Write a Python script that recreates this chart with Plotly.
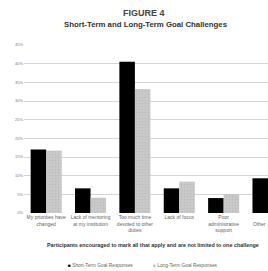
import plotly.graph_objects as go

categories = [
    "My priorities have<br>changed",
    "Lack of mentoring<br>at my institution",
    "Too much time<br>devoted to other<br>duties",
    "Lack of focus",
    "Poor<br>administrative<br>support",
    "Other",
]
short_term = [17.0, 6.6, 40.5, 6.6, 4.0, 9.3]
long_term = [16.7, 4.1, 33.2, 8.4, 5.1, 7.0]
series_names = ["Short-Term Goal Responses", "Long-Term Goal Responses"]
tick_vals = [0, 5, 10, 15, 20, 25, 30, 35, 40, 45]
tick_text = [f"{v}%" for v in tick_vals]

W, H = 268, 271
L, R, T, B = 24, 0, 45, 58
PW, PH = W - L - R, H - T - B
font = "Liberation Sans, Arial, sans-serif"
BLACK, GRAY = "#000000", "#c2c2c2"
idx = list(range(len(categories)))

fig = go.Figure()
fig.add_bar(x=idx, y=short_term, name=series_names[0],
            marker=dict(color=BLACK, line=dict(width=0)))
fig.add_bar(x=idx, y=long_term, name=series_names[1],
            marker=dict(color=GRAY, line=dict(width=0),
                        pattern=dict(shape=".", fgcolor="#b0b0b0", bgcolor="#cacaca", size=3, solidity=0.3)))

fig.update_layout(
    width=W, height=H,
    margin=dict(l=L, r=R, t=T, b=B, autoexpand=False),
    paper_bgcolor="white", plot_bgcolor="white",
    barmode="group", bargap=0.3, bargroupgap=0,
    font=dict(family=font, size=5, color="#555555"),
    showlegend=False,
    xaxis=dict(range=[-0.5, 5.0], tickmode="array", tickvals=idx[:-1],
               ticktext=categories[:-1], showgrid=False, zeroline=False, showline=False,
               tickfont=dict(size=5, color="#666666"), ticks="", ticklen=0, automargin=False),
    yaxis=dict(range=[0, 45], tickmode="array", tickvals=tick_vals, ticktext=tick_text,
               showgrid=True, gridcolor="#d4d4d4", gridwidth=1, zeroline=False, showline=False,
               tickfont=dict(size=4, color="#777777"), ticks="", automargin=False),
)


def px_x(x):
    return (x - L) / PW


def px_y(y):
    return 1 - (y - T) / PH


# last category label at the right edge (kept fully visible)
fig.add_annotation(text=categories[-1], xref="paper", yref="paper", x=1, y=px_y(219),
                   xanchor="right", yanchor="top", showarrow=False,
                   font=dict(size=5, color="#666666", family=font))

fig.add_annotation(text="<b>FIGURE 4</b>", xref="paper", yref="paper",
                   x=px_x(144), y=px_y(13), xanchor="center", yanchor="middle",
                   showarrow=False, font=dict(size=9, color="#444444", family=font))
fig.add_annotation(text="<b>Short-Term and Long-Term Goal Challenges</b>", xref="paper", yref="paper",
                   x=px_x(146), y=px_y(25), xanchor="center", yanchor="middle",
                   showarrow=False, font=dict(size=7.8, color="#333333", family=font))
fig.add_annotation(text="<b>Participants encouraged to mark all that apply and are not limited to one challenge</b>",
                   xref="paper", yref="paper", x=px_x(153), y=px_y(245), xanchor="center", yanchor="middle",
                   showarrow=False, font=dict(size=5.4, color="#333333", family=font))
# legend
fig.add_annotation(text=f"<span style='color:{BLACK}'>■</span> {series_names[0]}",
                   xref="paper", yref="paper", x=px_x(66), y=px_y(265), xanchor="left", yanchor="middle",
                   showarrow=False, font=dict(size=4.8, color="#666666", family=font))
fig.add_annotation(text=f"<span style='color:{GRAY}'>■</span> {series_names[1]}",
                   xref="paper", yref="paper", x=px_x(151), y=px_y(265), xanchor="left", yanchor="middle",
                   showarrow=False, font=dict(size=4.8, color="#666666", family=font))

fig.write_html("out.html", config={"displayModeBar": False},
               post_script="document.body.style.margin='0';document.body.style.overflow='hidden';")
